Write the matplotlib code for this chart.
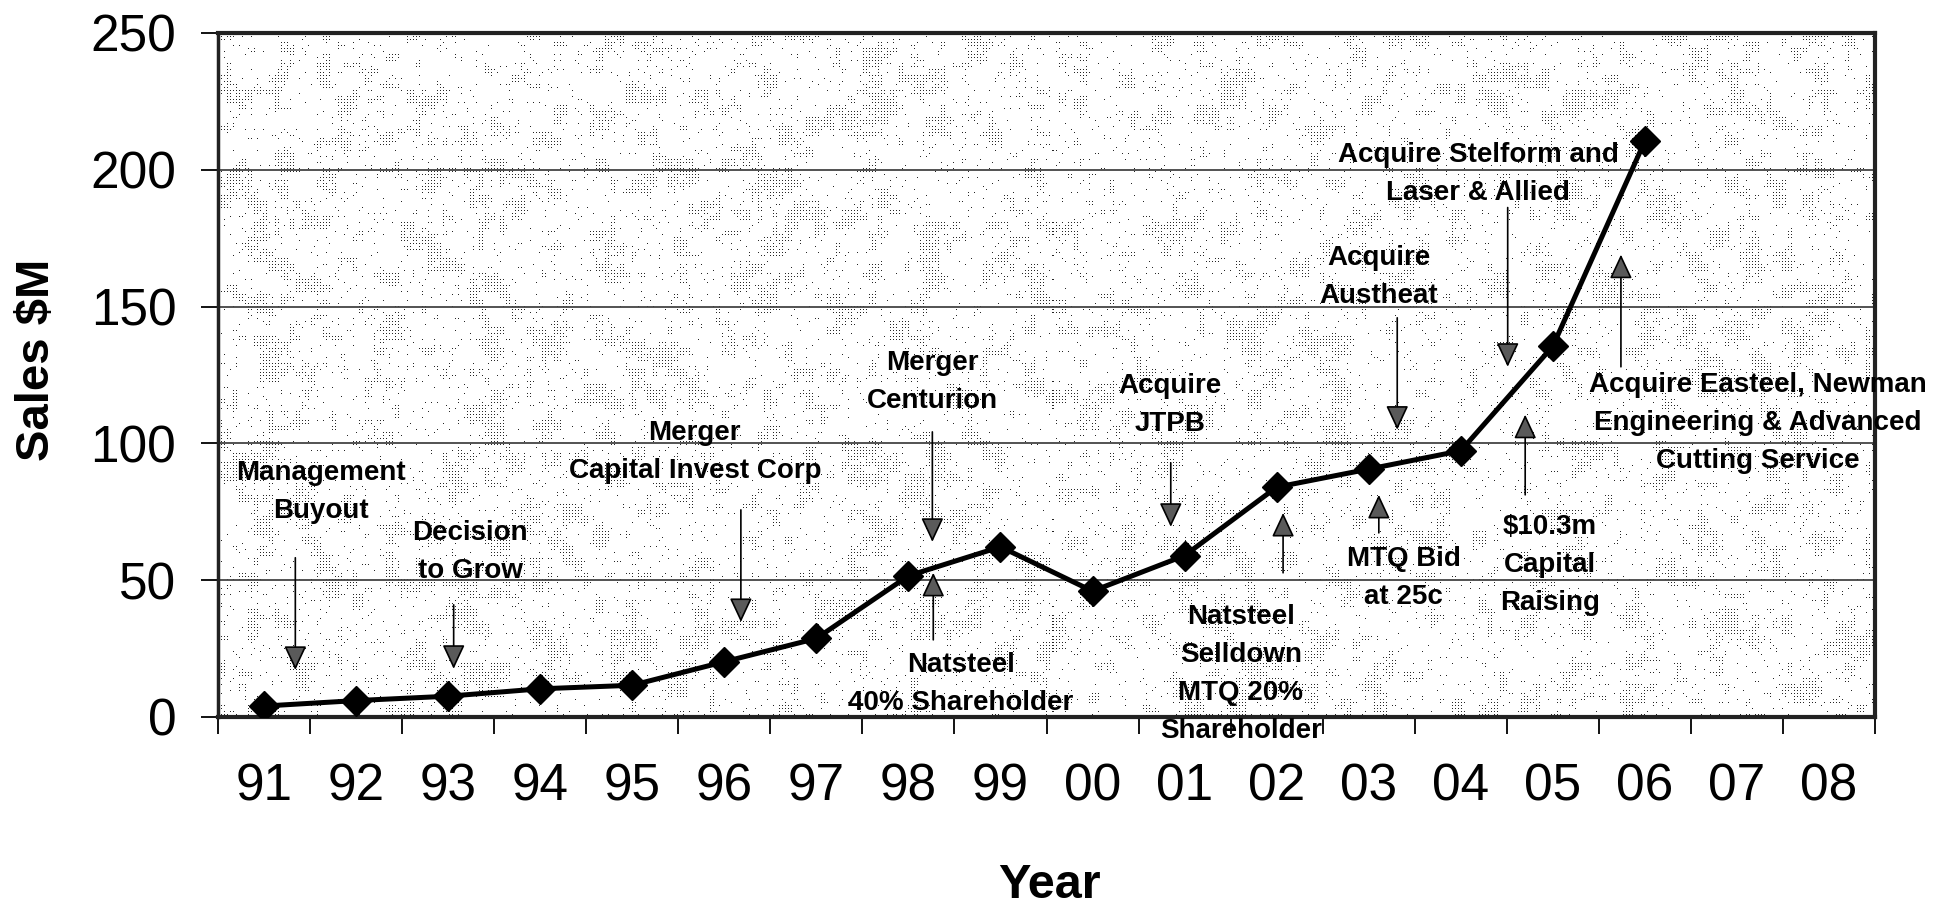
import matplotlib
matplotlib.use("Agg")
import matplotlib.pyplot as plt
import numpy as np
from matplotlib import font_manager

years = ["91", "92", "93", "94", "95", "96", "97", "98", "99",
         "00", "01", "02", "03", "04", "05", "06", "07", "08"]
sales = [4.0, 6.0, 7.6, 10.3, 11.6, 20.2, 28.7, 51.6, 62.2,
         46.0, 59.0, 84.0, 90.6, 97.3, 135.5, 210.5]
y_ticks = [0, 50, 100, 150, 200, 250]

# (text, text x, text y, arrow x, arrow tail y, arrow tip y)
notes = [
    ("Management\nBuyout", 0.62, 82.3, 0.34, 58.2, 17.2),
    ("Decision\nto Grow", 2.24, 60.4, 2.06, 41.0, 17.6),
    ("Merger\nCapital Invest Corp", 4.68, 96.7, 5.18, 75.7, 34.7),
    ("Merger\nCenturion", 7.26, 122.3, 7.26, 104.2, 64.0),
    ("Natsteel\n40% Shareholder", 7.57, 12.1, 7.27, 28.2, 52.7),
    ("Acquire\nJTPB", 9.84, 114.1, 9.85, 92.9, 69.5),
    ("Natsteel\nSelldown\nMTQ 20%\nShareholder", 10.61, 15.7, 11.07, 52.7, 74.6),
    ("MTQ Bid\nat 25c", 12.38, 50.8, 12.11, 67.3, 81.2),
    ("Acquire\nAustheat", 12.11, 160.9, 12.31, 145.9, 105.0),
    ("Acquire Stelform and\nLaser & Allied", 13.19, 198.6, 13.51, 186.2, 128.0),
    ("$10.3m\nCapital\nRaising", 13.97, 55.6, 13.70, 81.2, 110.5),
    ("Acquire Easteel, Newman\nEngineering & Advanced\nCutting Service", 16.23, 107.5, 14.74, 128.0, 169.0),
]

installed = {f.name for f in font_manager.fontManager.ttflist}
if "Liberation Sans Narrow" in installed:
    note_font, note_size = "Liberation Sans Narrow", 23
else:
    note_font, note_size = "Liberation Sans", 20
plt.rcParams["font.family"] = ["Liberation Sans", "DejaVu Sans"]

fig = plt.figure(figsize=(19.44, 9.08), dpi=100)
ax = fig.add_axes([218 / 1944, 1 - 717 / 908, 1657 / 1944, 684 / 908])

# stippled fill behind the plot area
rng = np.random.default_rng(7)
H, W, cell = 684, 1657, 7
coarse = rng.random((H // cell + 3, W // cell + 3))
smooth = sum(np.roll(np.roll(coarse, dy, 0), dx, 1)
             for dy in (-1, 0, 1) for dx in (-1, 0, 1)) / 9
blob = np.repeat(np.repeat(smooth, cell, 0), cell, 1)[:H, :W] > 0.58
yy, xx = np.mgrid[0:H, 0:W]
lattice = (yy % 3 == 0) & (xx % 3 == 0)
speck = rng.random((H, W))
dots = lattice & ((blob & (speck < 0.8)) | (speck < 0.08))
tex = np.where(dots, 0.15, 1.0)
ax.imshow(tex, cmap="gray", vmin=0, vmax=1, extent=(-0.5, 17.5, 0, 250),
          aspect="auto", interpolation="nearest", zorder=0)

x = np.arange(len(sales))
ax.plot(x, sales, color="black", linewidth=3.6, marker="D", markersize=15, zorder=5)

for text, tx, ty, ax_x, tail, tip in notes:
    ax.annotate("", xy=(ax_x, tip), xytext=(ax_x, tail),
                arrowprops=dict(arrowstyle="-|>,head_length=1.5,head_width=0.7",
                                mutation_scale=10, lw=1.2, edgecolor="black",
                                facecolor="#5a5a5a", shrinkA=0, shrinkB=0),
                zorder=4)
    ax.text(tx, ty, text, ha="center", va="center", fontsize=note_size,
            family=note_font, fontweight="bold", linespacing=1.6,
            zorder=6, clip_on=False)

ax.set_xlim(-0.5, 17.5)
ax.set_ylim(0, 250)
ax.set_xticks(range(len(years)))
ax.set_xticklabels(years)
ax.set_xticks(np.arange(-0.5, 18, 1), minor=True)
ax.tick_params(axis="x", which="major", length=0, pad=33, labelsize=37)
ax.tick_params(axis="x", which="minor", length=12, width=1.3, direction="out")
ax.set_yticks(y_ticks)
ax.tick_params(axis="y", length=12, width=1.3, pad=18, labelsize=37)

ax.grid(axis="y", color="#444444", linewidth=1.3)
for side, lw in (("top", 3), ("right", 3), ("left", 2.5), ("bottom", 3)):
    ax.spines[side].set_linewidth(lw)
    ax.spines[side].set_color("#222222")

ax.set_ylabel("Sales $M", fontsize=34, fontweight="bold", ha="center", va="center")
ax.yaxis.set_label_coords(-0.109, 0.522)
ax.set_xlabel("Year", fontsize=35, fontweight="bold", ha="center", va="center")
ax.xaxis.set_label_coords(0.502, -0.247)

fig.savefig("out.png", dpi=100)
